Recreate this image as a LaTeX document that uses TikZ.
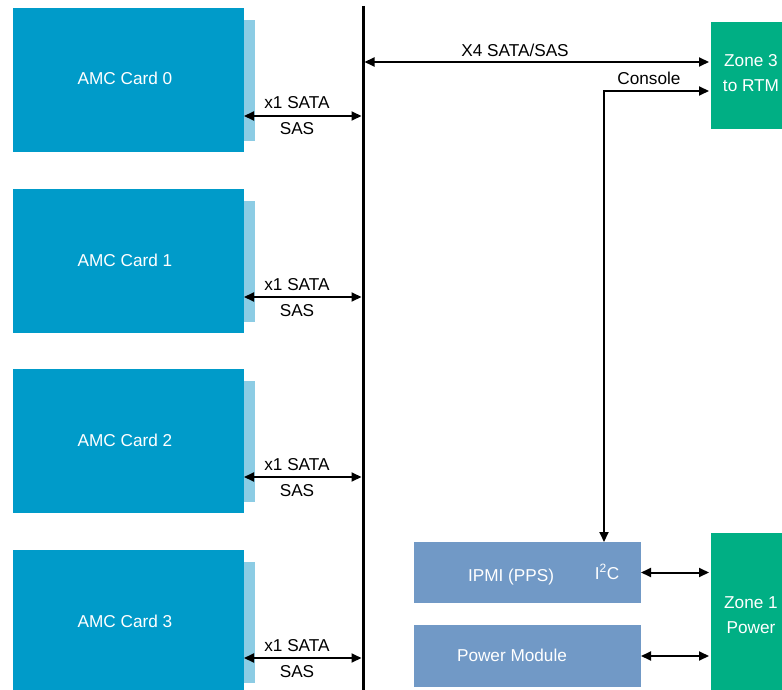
\documentclass[tikz,border=0pt]{standalone}
\usepackage{fontspec}
\setmainfont{Liberation Sans}
\usetikzlibrary{arrows.meta}
\definecolor{amc}{RGB}{0,155,201}
\definecolor{stripc}{RGB}{140,204,228}
\definecolor{zonec}{RGB}{0,175,132}
\definecolor{ipmic}{RGB}{113,153,198}
\begin{document}
\begin{tikzpicture}[x=1pt,y=-1pt,
  lbl/.style={font=\fontsize{17.2}{20}\selectfont, anchor=base, inner sep=0pt},
  wlbl/.style={lbl, text=white},
  box/.style={draw=none, inner sep=0pt, outer sep=0pt, anchor=north west},
  link/.style={line width=2pt, {Triangle[length=10pt,width=9pt]}-{Triangle[length=10pt,width=9pt]}}]
\useasboundingbox (0,0) rectangle (782,690);
\clip (0,0) rectangle (782,690);
% bus
\coordinate (bustop) at (363,6);
\coordinate (busbot) at (363,700);
\draw[line width=3pt] (bustop) -- (busbot);
% AMC cards
\foreach \i/\y in {0/8,1/189,2/369,3/550}{
  \node[box, fill=stripc, minimum width=12, minimum height=121] (strip\i) at (243,{\y+12}) {};
  \node[box, fill=amc, minimum width=231, minimum height=144] (card\i) at (13,\y) {};
  \node[wlbl] (cardtxt\i) at (125,{\y+77}) {AMC Card \i};
  \coordinate (b\i) at (361.5,{\y+108});
  \draw[link] (card\i.east |- b\i) -- (b\i);
  \node[lbl] (sata\i) at (297,{\y+101}) {x1 SATA};
  \node[lbl] (sas\i) at (297,{\y+127}) {SAS};
}
% Zone 3
\node[box, fill=zonec, minimum width=80, minimum height=107] (z3) at (711,22) {};
\node[wlbl] (z3a) at (751,67) {Zone 3};
\node[wlbl] (z3b) at (751,92) {to RTM};
\coordinate (x4l) at (364.5,62);
\draw[link, shorten >=2pt] (x4l) -- (x4l -| z3.west);
\node[lbl] (x4txt) at (515,57) {X4 SATA/SAS};
% IPMI and power module
\node[box, fill=ipmic, minimum width=227, minimum height=61] (ipmi) at (414,542) {};
\node[wlbl] (ipmitxt) at (511,581) {IPMI (PPS)};
\node[wlbl] (i2c) at (607,579) {I\textsuperscript{2}C};
\node[box, fill=ipmic, minimum width=227, minimum height=62] (pm) at (414,625) {};
\node[wlbl] (pmtxt) at (512,661) {Power Module};
% Zone 1
\node[box, fill=zonec, minimum width=80, minimum height=163] (z1) at (711,533) {};
\node[wlbl] (z1a) at (751,608) {Zone 1};
\node[wlbl] (z1b) at (751,633) {Power};
% console
\coordinate (cons) at (604,91);
\draw[link, shorten >=2pt] (ipmi.north -| cons) |- (cons -| z3.west);
\node[lbl] (constxt) at (649,85) {Console};
% power links
\draw[link, shorten >=2pt] (ipmi.east) -- (ipmi.east -| z1.west);
\draw[link, shorten >=2pt] (pm.east) -- (pm.east -| z1.west);
\end{tikzpicture}
\end{document}
